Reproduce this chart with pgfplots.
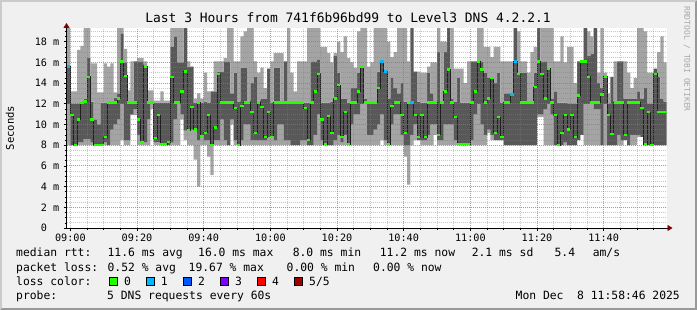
\documentclass[border=0pt]{standalone}
\usepackage{pgfplots}
\pgfplotsset{compat=1.18}
\usepackage{pgfplotstable}
\usetikzlibrary{arrows.meta}
\usepackage{fontspec}
\setmainfont{DejaVu Sans Mono}
\definecolor{bg}{HTML}{F0F0F0}
\definecolor{shadea}{HTML}{CBCBCB}
\definecolor{shadeb}{HTML}{999999}
\definecolor{smokeL}{HTML}{A4A4A4}
\definecolor{smokeD}{HTML}{585858}
\definecolor{lc0}{HTML}{26FF00}
\definecolor{lc1}{HTML}{00B8FF}
\definecolor{lc2}{HTML}{0059FF}
\definecolor{lc3}{HTML}{7E00FF}
\definecolor{lc4}{HTML}{FF0000}
\definecolor{lc5}{HTML}{A10000}
\definecolor{arrowc}{HTML}{7F0000}
\definecolor{mgrid}{HTML}{E05050}
\definecolor{ngrid}{HTML}{808080}
\definecolor{wmark}{HTML}{A8A8A8}

\pgfplotstableread{
t lo dlo med dhi hi
-2 8 12.0 15.6 15.6 19.3
-1 8 12.0 15.6 15.6 19.3
0 8 8.0 10.9 12.0 13.2
1 8 8.0 8.0 12.0 13.2
2 8 8.3 10.5 12.0 17.2
3 8 8.3 12.1 12.3 17.6
4 8 8.6 12.2 12.5 19.3
5 8 8.6 14.6 16.4 19.3
6 8 8.3 10.5 12.2 15.9
7 8 8.0 8.0 10.5 15.9
8 8 8.0 8.0 10.0 13.1
9 8 8.0 8.0 12.1 13.1
10 8 8.3 8.8 12.1 15.9
11 8 8.0 12.1 12.2 15.6
12 8 9.5 12.1 12.2 15.9
13 8 10.0 12.1 12.6 13.1
14 8 10.5 12.5 13.0 19.3
15 8.5 12.0 16.1 18.8 19.3
16 8 8.5 14.7 16.0 17.3
17 8 8.5 12.1 12.2 13.3
18 10.9 11.0 12.1 12.2 16.1
19 10.9 11.5 12.1 16.1 16.1
20 8 9.0 10.5 16.1 16.4
21 8 8.3 8.3 16.1 16.4
22 8 8.3 15.6 15.8 16.1
23 8 10.5 12.1 12.2 13.3
24 11.5 12.0 12.1 12.2 13.3
25 8 8.3 8.7 12.1 12.3
26 8 8.3 10.9 12.1 12.3
27 8 8.0 8.1 12.1 13.2
28 8 8.0 8.1 12.1 12.3
29 8 8.0 8.3 12.1 12.3
30 8 8.3 14.6 17.5 19.3
31 8 10.5 12.1 18.5 19.3
32 8 12.0 12.1 16.0 19.3
33 10.5 11.0 13.2 16.0 19.3
34 8.5 9.4 15.1 19.3 19.3
35 8 9.4 9.4 15.6 16.1
36 8 9.5 11.7 15.6 15.6
37 6.6 9.5 9.5 12.1 12.5
38 4.0 8.5 12.1 12.1 13.0
39 8 8.9 8.9 12.1 12.5
40 8 8.5 9.2 12.2 15.0
41 6.9 8.5 10.9 12.1 13.2
42 5.1 8.0 8.0 13.2 13.2
43 8 8.5 9.7 13.2 16.1
44 8 8.5 14.9 15.1 16.1
45 8 10.5 12.1 15.1 16.1
46 8 8.5 12.1 16.1 16.4
47 8 8.0 12.1 16.1 19.3
48 10.0 10.5 12.1 13.0 19.3
49 8 8.5 11.6 15.0 16.1
50 8 8.0 8.0 12.2 16.1
51 8 8.5 11.8 15.5 18.5
52 8 10.0 12.1 15.5 19.0
53 8 10.0 12.1 12.3 19.3
54 8 8.5 11.2 14.0 19.3
55 8 8.5 9.2 14.6 16.1
56 8 8.5 12.1 12.3 15.0
57 8 8.5 11.7 12.5 15.5
58 8 8.5 8.8 12.5 13.5
59 8 8.8 11.2 15.4 15.4
60 8 8.8 8.8 12.1 16.1
61 8 8.5 12.1 15.5 16.9
62 8 10.0 12.1 15.5 16.9
63 8 10.0 12.1 12.2 16.9
64 8 8.5 12.1 16.1 16.1
65 8 8.5 12.1 12.2 19.3
66 8 8.0 12.1 12.2 15.0
67 8 8.0 12.1 12.2 13.2
68 8 8.0 12.1 12.2 16.1
69 8 8.5 12.1 12.2 16.1
70 8 8.5 11.6 12.1 16.1
71 8 8.0 8.5 12.1 19.3
72 8 8.0 12.1 16.1 19.3
73 8 9.0 13.2 16.1 19.3
74 8 11.0 14.9 16.3 19.3
75 8 8.5 10.5 12.1 17.5
76 8 8.0 8.1 12.1 17.5
77 8 8.0 10.8 12.1 16.9
78 8 8.0 9.2 12.2 16.0
79 8 8.5 12.5 16.6 16.9
80 8 9.0 13.8 15.0 18.0
81 8 8.3 8.8 12.5 17.0
82 8 9.0 11.2 12.5 18.5
83 8 8.0 8.1 12.1 16.4
84 8 10.0 12.1 13.5 16.0
85 8 11.0 12.1 13.5 15.5
86 8 11.0 13.2 15.0 19.0
87 8 12.0 15.6 15.6 19.3
88 8 12.0 12.1 12.5 19.3
89 8 9.0 12.1 12.2 15.6
90 8 9.0 12.1 12.2 16.0
91 8 9.5 12.1 12.2 19.3
92 8 10.0 13.5 15.1 19.3
93 8.5 11.0 16.1 16.1 19.3
94 8 8.5 15.1 15.1 19.3
95 8 8.0 8.1 12.5 18.0
96 8 10.0 11.8 14.5 16.5
97 8 11.0 12.1 13.5 17.0
98 8 11.0 12.1 13.0 19.3
99 8 9.0 10.9 14.0 19.3
100 6.9 8.0 9.2 12.2 19.3
101 4.2 8.0 12.1 12.2 16.1
102 8 9.0 12.1 19.3 19.3
103 8.5 10.0 10.9 15.1 15.1
104 8.5 8.5 8.8 12.2 15.1
105 8 8.5 10.9 12.1 15.0
106 8 8.5 8.8 12.1 15.0
107 8 9.0 12.1 15.0 15.6
108 8 10.0 12.1 13.0 16.0
109 9.0 10.0 12.1 12.2 16.0
110 8 8.5 9.0 17.0 19.3
111 8 8.5 12.1 12.2 18.0
112 8 10.0 13.2 17.0 18.0
113 8 10.0 15.3 19.3 19.3
114 8 10.0 12.1 12.5 19.3
115 8 8.5 10.7 12.2 15.4
116 8 8.0 8.1 14.5 15.4
117 8 8.0 8.1 12.1 15.4
118 8 8.0 8.1 12.1 14.0
119 8 8.0 8.1 12.1 16.1
120 8 8.5 12.1 16.1 16.1
121 8 11.0 13.2 16.1 16.1
122 8 12.0 16.1 16.1 19.3
123 8 10.0 15.3 16.1 19.3
124 8 9.0 12.1 15.0 17.5
125 9.2 9.5 12.5 14.5 17.5
126 8.5 9.0 14.5 14.5 16.5
127 8.5 8.5 9.2 14.0 17.5
128 8.5 8.5 10.7 15.0 17.5
129 8.5 8.5 8.8 12.1 16.1
130 8 8.0 12.1 13.0 16.1
131 8 8.0 12.1 13.0 16.1
132 8 8.0 12.9 13.0 16.1
133 8 8.0 16.1 19.3 19.3
134 8 8.0 14.9 15.0 19.0
135 8 8.0 12.1 15.0 16.1
136 8 8.0 12.1 15.0 16.1
137 8 8.0 12.1 12.2 15.0
138 8 8.0 12.1 12.2 17.0
139 8 8.0 13.6 15.0 17.5
140 10.7 11.0 16.1 19.3 19.3
141 10.7 11.0 14.9 16.1 19.3
142 8 11.5 12.5 16.1 19.3
143 8 12.0 15.4 15.6 19.3
144 8 11.0 12.1 12.5 19.3
145 8 8.0 10.9 13.2 16.1
146 8 8.0 8.0 12.1 16.1
147 8 8.0 9.2 12.1 18.5
148 8 8.3 10.9 12.1 16.0
149 8 8.0 9.5 12.0 17.5
150 8 8.0 10.9 12.0 17.5
151 8 8.0 8.8 12.0 14.0
152 8.5 8.5 12.8 16.1 16.1
153 9.0 9.0 16.1 16.1 16.1
154 8 12.0 16.1 19.3 19.3
155 8 12.0 14.6 16.6 19.0
156 8 12.0 12.1 16.8 18.5
157 8 11.5 12.1 19.3 19.3
158 8 11.5 12.1 14.0 15.0
159 8 8.0 12.9 13.5 19.3
160 8 12.0 14.6 14.6 15.0
161 8 8.0 10.9 12.0 13.0
162 8 8.0 9.1 14.6 14.6
163 8 8.0 12.1 12.2 16.1
164 8 9.0 12.1 16.1 16.1
165 8 8.5 12.1 16.1 16.1
166 8.5 8.5 9.0 12.5 16.1
167 8 8.0 12.1 12.5 15.0
168 8 9.0 12.1 12.5 13.5
169 8 9.0 12.1 12.5 14.5
170 8.8 9.0 12.1 13.2 19.3
171 8.8 8.8 11.6 12.5 19.3
172 8 8.0 8.1 13.5 19.0
173 8 8.0 11.2 12.0 15.0
174 8 8.0 8.0 12.0 15.0
175 8 8.0 14.9 15.4 15.4
176 8 8.0 11.2 14.6 17.0
177 8 8.0 11.2 12.5 18.5
178 8 8.0 11.2 12.2 16.0
179 8 8.0 11.2 12.2 16.0
}\smoke

\pgfplotstableread{
t med
-1 15.6
93 16.1
94 15.1
102 12.1
132 12.9
133 16.1
}\lossone

\begin{document}
\begin{tikzpicture}
\fill[shadeb] (0,0) rectangle (697bp,310bp);
\fill[shadea] (0,0) -- (0,310bp) -- (697bp,310bp) -- (695bp,308bp) -- (2bp,308bp) -- (2bp,2bp) -- cycle;
\fill[bg] (2bp,2bp) rectangle (695bp,308bp);
\begin{axis}[
  at={(66.5bp,82bp)}, anchor=south west, scale only axis,
  width=600bp, height=200bp,
  xmin=-1.15, xmax=178.85, ymin=0, ymax=19.32,
  axis x line=bottom, axis y line=left,
  x axis line style={black, line width=0.8bp, -{Triangle[length=5bp,width=6bp,color=arrowc]}, shorten >=-6bp},
  y axis line style={black, line width=0.8bp, -{Triangle[length=5bp,width=6bp,color=arrowc]}, shorten >=-5bp},
  axis background/.style={fill=white},
  axis on top,
  xtick={0,20,...,160},
  xticklabels={09:00,09:20,09:40,10:00,10:20,10:40,11:00,11:20,11:40},
  minor xtick={5,10,...,175},
  ytick={0,2,...,18},
  yticklabels={0\hphantom{mm},2 m,4 m,6 m,8 m,10 m,12 m,14 m,16 m,18 m},
  minor ytick={0.5,1,...,19},
  grid=both,
  major grid style={mgrid, draw opacity=0.5, dash pattern=on 1bp off 1bp, line width=0.8bp},
  minor grid style={ngrid, draw opacity=0.42, dash pattern=on 1bp off 1bp, line width=0.8bp},
  tick align=outside,
  major tick length=3bp, minor tick length=2bp,
  tick style={black, line width=0.6bp},
  tick label style={font=\fontsize{10.2}{12}\selectfont},
  xticklabel style={inner sep=0pt, yshift=-3bp},
  yticklabel style={inner sep=0pt, xshift=-4bp},
]
\addplot[stack plots=y, draw=none, const plot] table[x=t,y=lo]{\smoke};
\addplot[stack plots=y, draw=none, fill=smokeL, const plot] table[x=t,y expr=\thisrow{dlo}-\thisrow{lo}]{\smoke} \closedcycle;
\addplot[stack plots=y, draw=none, fill=smokeD, const plot] table[x=t,y expr=\thisrow{dhi}-\thisrow{dlo}]{\smoke} \closedcycle;
\addplot[stack plots=y, draw=none, fill=smokeL, const plot] table[x=t,y expr=\thisrow{hi}-\thisrow{dhi}]{\smoke} \closedcycle;
\addplot[stack plots=false, const plot, black!88, line width=0.8bp] table[x=t,y=med]{\smoke};
\addplot[stack plots=false, only marks, mark=-, mark size=1.7bp, color=lc0, mark options={line width=2.5bp}, restrict x to domain=-0.2:178.7] table[x expr=\thisrow{t}+0.5, y=med]{\smoke};
\addplot[stack plots=false, only marks, mark=-, mark size=1.7bp, color=lc1, mark options={line width=2.5bp}] table[x expr=\thisrow{t}+0.5, y=med]{\lossone};
\end{axis}
% title and texts
\node[anchor=base, font=\fontsize{13}{15}\selectfont, inner sep=0pt] at (348bp,287bp) {Last 3 Hours from 741f6b96bd99 to Level3 DNS 4.2.2.1};
\node[anchor=center, rotate=90, font=\fontsize{10.6}{12}\selectfont, inner sep=0pt] at (10bp,182bp) {Seconds};
\node[anchor=center, rotate=-90, font=\fontsize{8}{9}\selectfont, inner sep=0pt, text=wmark] at (687bp,251bp) {RRDTOOL / TOBI OETIKER};
\begin{scope}[every node/.style={anchor=base west, inner sep=0pt, font=\fontsize{11.4}{13}\selectfont}]
\node at (16bp,53bp) {median rtt:};
\node at (107.4bp,53bp) {11.6 ms avg};
\node at (198bp,53bp) {16.0 ms max};
\node at (292.6bp,53bp) {8.0 ms min};
\node at (379.7bp,53bp) {11.2 ms now};
\node at (471.6bp,53bp) {2.1 ms sd};
\node at (554.4bp,53bp) {5.4};
\node at (592.6bp,53bp) {am/s};
\node at (16bp,39bp) {packet loss:};
\node at (107.4bp,39bp) {0.52 \% avg};
\node at (188.5bp,39bp) {19.67 \% max};
\node at (286.5bp,39bp) {0.00 \% min};
\node at (373bp,39bp) {0.00 \% now};
\node at (16bp,25bp) {loss color:};
\node at (124bp,25bp) {0};
\node at (160.7bp,25bp) {1};
\node at (198bp,25bp) {2};
\node at (235bp,25bp) {3};
\node at (272bp,25bp) {4};
\node at (309bp,25bp) {5/5};
\node at (16bp,10.5bp) {probe:};
\node at (107bp,10.5bp) {5 DNS requests every 60s};
\node[anchor=base east] at (680bp,10.5bp) {Mon Dec\ \ 8 11:58:46 2025};
\end{scope}
\foreach \xx/\cc in {109/lc0,146/lc1,183/lc2,220.5/lc3,257.6/lc4,294.6/lc5}{
  \filldraw[fill=\cc, draw=black, line width=0.6bp] (\xx bp,24.5bp) rectangle ++(8bp,8.5bp);
}
\pgfresetboundingbox
\useasboundingbox (0,0) rectangle (697bp,310bp);
\end{tikzpicture}
\end{document}
